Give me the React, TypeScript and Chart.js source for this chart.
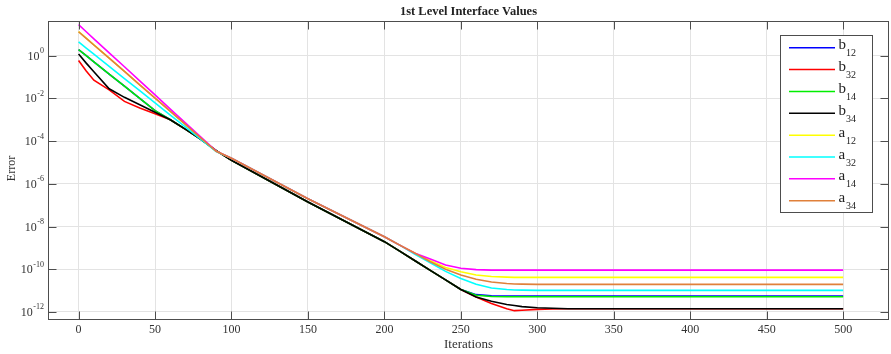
import React, { useEffect, useRef } from 'react';
import { Chart, registerables } from 'chart.js';

Chart.register(...registerables);

const SERIF = '"Liberation Serif", "Times New Roman", serif';

const iterations = [0, 5, 10, 20, 30, 40, 50, 60, 70, 80, 90, 100, 150, 200, 210, 220, 230, 240, 250, 260, 270, 280, 285, 290, 300, 310, 320, 500];

const b12 = [1.9, 1.0, 0.51, 0.138, 0.037, 0.01, 2.69e-3, 1.0e-3, 3.55e-4, 1.2e-4, 3.55e-5, 1.26e-5, 1.41e-7, 1.95e-9, 7.08e-10, 2.51e-10, 8.91e-11, 3.16e-11, 1.12e-11, 6.46e-12, 5.75e-12, 5.62e-12, 5.62e-12, 5.62e-12, 5.62e-12, 5.62e-12, 5.62e-12, 5.62e-12];
const b32 = [0.589, 0.191, 0.0708, 0.0251, 7.24e-3, 3.55e-3, 1.91e-3, 1.0e-3, 3.55e-4, 1.2e-4, 3.55e-5, 1.26e-5, 1.41e-7, 1.95e-9, 7.08e-10, 2.51e-10, 8.91e-11, 3.16e-11, 1.12e-11, 5.01e-12, 2.51e-12, 1.41e-12, 1.15e-12, 1.2e-12, 1.32e-12, 1.38e-12, 1.41e-12, 1.41e-12];
const b14 = [1.91, 1.0, 0.513, 0.138, 0.0372, 0.01, 2.69e-3, 1.0e-3, 3.55e-4, 1.2e-4, 3.55e-5, 1.26e-5, 1.41e-7, 1.95e-9, 7.08e-10, 2.51e-10, 8.91e-11, 3.16e-11, 1.12e-11, 6.03e-12, 5.25e-12, 5.13e-12, 5.13e-12, 5.13e-12, 5.13e-12, 5.13e-12, 5.13e-12, 5.13e-12];
const b34 = [1.2, 0.447, 0.178, 0.0282, 0.0112, 5.01e-3, 2.24e-3, 1.0e-3, 3.55e-4, 1.2e-4, 3.55e-5, 1.26e-5, 1.41e-7, 1.95e-9, 7.08e-10, 2.51e-10, 8.91e-11, 3.16e-11, 1.12e-11, 5.01e-12, 3.16e-12, 2.24e-12, 2.0e-12, 1.78e-12, 1.58e-12, 1.48e-12, 1.41e-12, 1.41e-12];
const a12 = [13.5, 6.6, 3.2, 0.77, 0.185, 0.0433, 0.0104, 2.5e-3, 5.9e-4, 1.39e-4, 3.35e-5, 1.58e-5, 2.0e-7, 3.31e-9, 1.35e-9, 5.62e-10, 2.51e-10, 1.2e-10, 7.59e-11, 5.37e-11, 4.57e-11, 4.27e-11, 4.17e-11, 4.17e-11, 4.17e-11, 4.17e-11, 4.17e-11, 4.17e-11];
const a32 = [4.37, 2.24, 1.17, 0.316, 0.0851, 0.0229, 6.17e-3, 1.66e-3, 4.47e-4, 1.2e-4, 3.24e-5, 1.58e-5, 2.0e-7, 3.31e-9, 1.35e-9, 5.01e-10, 2.0e-10, 7.94e-11, 3.72e-11, 2.0e-11, 1.32e-11, 1.12e-11, 1.07e-11, 1.05e-11, 1.02e-11, 1.02e-11, 1.02e-11, 1.02e-11];
const a14 = [28.2, 13.2, 6.17, 1.35, 0.302, 0.0661, 0.0145, 3.16e-3, 6.92e-4, 1.55e-4, 3.39e-5, 1.58e-5, 2.0e-7, 3.31e-9, 1.35e-9, 5.62e-10, 3.02e-10, 1.58e-10, 1.12e-10, 9.55e-11, 9.12e-11, 9.12e-11, 9.12e-11, 9.12e-11, 9.12e-11, 9.12e-11, 9.12e-11, 9.12e-11];
const a34 = [13.2, 6.46, 3.16, 0.759, 0.182, 0.0427, 0.0102, 2.45e-3, 5.89e-4, 1.38e-4, 3.31e-5, 1.58e-5, 2.0e-7, 3.31e-9, 1.35e-9, 5.62e-10, 2.24e-10, 1.0e-10, 5.37e-11, 3.39e-11, 2.51e-11, 2.14e-11, 2.04e-11, 2.0e-11, 1.95e-11, 1.95e-11, 1.95e-11, 1.95e-11];

const seriesValues = [b12, b32, b14, b34, a12, a32, a14, a34];
const seriesLetters = ['b', 'b', 'b', 'b', 'a', 'a', 'a', 'a'];
const seriesSubscripts = ['12', '32', '14', '34', '12', '32', '14', '34'];
const seriesColors = ['#0000ff', '#ff0000', '#00ee00', '#000000', '#ffff00', '#00ffff', '#ff00ff', '#e0803a'];

const xTickValues = [0, 50, 100, 150, 200, 250, 300, 350, 400, 450, 500];
const yTickValues = [1e-12, 1e-10, 1e-8, 1e-6, 1e-4, 1e-2, 1];
const yTickBase = '10';
const yTickExponents = ['-12', '-10', '-8', '-6', '-4', '-2', '0'];

const titleText = '1st Level Interface Values';
const xTitle = 'Iterations';
const yTitle = 'Error';

const framePlugin = {
  id: 'matlabFrame',
  afterDatasetsDraw(chart: any) {
    const { ctx, chartArea: ca, scales } = chart;
    const xs = scales.x;
    const ys = scales.y;
    const L = Math.round(ca.left) + 0.5;
    const R = Math.round(ca.right) - 0.5;
    const T = Math.round(ca.top) + 0.5;
    const B = Math.round(ca.bottom) - 0.5;
    const tickLen = 8;
    ctx.save();
    ctx.strokeStyle = '#4d4d4d';
    ctx.lineWidth = 1;
    ctx.strokeRect(L, T, R - L, B - T);
    ctx.beginPath();
    xTickValues.forEach((v) => {
      const px = Math.round(xs.getPixelForValue(v)) + 0.5;
      ctx.moveTo(px, B);
      ctx.lineTo(px, B - tickLen);
      ctx.moveTo(px, T);
      ctx.lineTo(px, T + tickLen);
    });
    yTickValues.forEach((v) => {
      const py = Math.round(ys.getPixelForValue(v)) + 0.5;
      ctx.moveTo(L, py);
      ctx.lineTo(L + tickLen, py);
      ctx.moveTo(R, py);
      ctx.lineTo(R - tickLen, py);
    });
    ctx.stroke();

    // y tick labels with superscripts
    ctx.fillStyle = '#333333';
    ctx.textBaseline = 'alphabetic';
    ctx.textAlign = 'left';
    yTickValues.forEach((v, i) => {
      const py = ys.getPixelForValue(v);
      ctx.font = `8px ${SERIF}`;
      const supW = ctx.measureText(yTickExponents[i]).width;
      ctx.font = `12px ${SERIF}`;
      const baseW = ctx.measureText(yTickBase).width;
      const xr = ca.left - 4;
      ctx.fillText(yTickBase, xr - supW - baseW - 0.5, py + 4);
      ctx.font = `8px ${SERIF}`;
      ctx.fillText(yTickExponents[i], xr - supW, py - 2.5);
    });

    // title
    ctx.fillStyle = '#222222';
    ctx.font = `bold 13px ${SERIF}`;
    ctx.textAlign = 'center';
    const cx = (ca.left + ca.right) / 2;
    const tw = ctx.measureText(titleText).width;
    const sx = Math.min(1, 137 / tw);
    ctx.save();
    ctx.translate(cx, 15);
    ctx.scale(sx, 1);
    ctx.fillText(titleText, 0, 0);
    ctx.restore();

    // axis titles
    ctx.fillStyle = '#333333';
    ctx.font = `13px ${SERIF}`;
    ctx.fillText(xTitle, cx, 348);
    ctx.save();
    ctx.translate(15, (ca.top + ca.bottom) / 2 - 2);
    ctx.rotate(-Math.PI / 2);
    ctx.font = `12px ${SERIF}`;
    ctx.fillText(yTitle, 0, 0);
    ctx.restore();

    // legend
    const boxL = 780.5;
    const boxT = 35.5;
    const boxW = 92;
    const boxH = 177;
    ctx.fillStyle = '#ffffff';
    ctx.fillRect(boxL, boxT, boxW, boxH);
    ctx.strokeStyle = '#4d4d4d';
    ctx.lineWidth = 1;
    ctx.strokeRect(boxL, boxT, boxW, boxH);
    const step = 21.86;
    seriesLetters.forEach((letter, i) => {
      const y = 47.7 + i * step;
      ctx.strokeStyle = seriesColors[i];
      ctx.lineWidth = 1.5;
      ctx.beginPath();
      ctx.moveTo(789, y);
      ctx.lineTo(835, y);
      ctx.stroke();
      ctx.fillStyle = '#222222';
      ctx.textAlign = 'left';
      ctx.font = `15px ${SERIF}`;
      ctx.fillText(letter, 838.5, y + 1.5);
      ctx.font = `10px ${SERIF}`;
      ctx.fillText(seriesSubscripts[i], 846, y + 8.5);
    });
    ctx.restore();
  },
};

export default function App() {
  const canvasRef = useRef<HTMLCanvasElement | null>(null);

  useEffect(() => {
    document.body.style.margin = '0';
    const canvas = canvasRef.current;
    if (!canvas) return;
    const n = seriesValues.length;
    const datasets = seriesValues.map((vals, i) => ({
      label: seriesLetters[i] + seriesSubscripts[i],
      data: iterations.map((it, k) => ({ x: it, y: vals[k] })),
      borderColor: seriesColors[i],
      backgroundColor: seriesColors[i],
      borderWidth: 1.6,
      pointRadius: 0,
      tension: 0,
      fill: false,
      order: n - 1 - i,
    }));
    const chart = new Chart(canvas, {
      type: 'line',
      data: { datasets },
      options: {
        responsive: false,
        animation: false,
        devicePixelRatio: 1,
        layout: { padding: { left: 0, right: 2, top: 21, bottom: 0 } },
        plugins: {
          legend: { display: false },
          title: { display: false },
          tooltip: { enabled: false },
        },
        scales: {
          x: {
            type: 'linear',
            min: -20,
            max: 530,
            afterBuildTicks: (scale: any) => {
              scale.ticks = xTickValues.map((v) => ({ value: v }));
            },
            afterFit: (scale: any) => {
              scale.height = 34;
            },
            ticks: {
              padding: 3,
              color: '#333333',
              font: { family: SERIF, size: 12 },
              maxRotation: 0,
              autoSkip: false,
              callback: (v: any) => String(v),
            },
            grid: { color: '#e3e3e3', drawTicks: false, lineWidth: 1 },
            border: { display: false },
          },
          y: {
            type: 'logarithmic',
            min: 4.2e-13,
            max: 42,
            afterBuildTicks: (scale: any) => {
              scale.ticks = yTickValues.map((v) => ({ value: v }));
            },
            afterFit: (scale: any) => {
              scale.width = 48;
            },
            ticks: { display: false },
            grid: { color: '#e3e3e3', drawTicks: false, lineWidth: 1 },
            border: { display: false },
          },
        },
      },
      plugins: [framePlugin],
    });
    return () => chart.destroy();
  }, []);

  return (
    <div style={{ width: 891, height: 354, background: '#ffffff' }}>
      <canvas ref={canvasRef} width={891} height={354} style={{ display: 'block' }} />
    </div>
  );
}
